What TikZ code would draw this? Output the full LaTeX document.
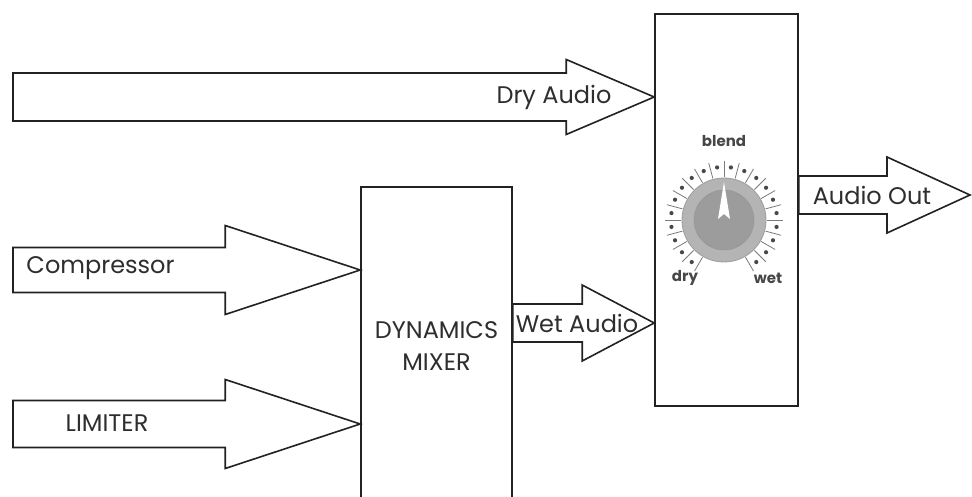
\documentclass[tikz,border=0pt]{standalone}
\usepackage{fontspec}
\setmainfont{Poppins}
\usepackage{tikz}
\usetikzlibrary{calc}

\definecolor{ink}{HTML}{222222}
\definecolor{txt}{HTML}{2E2E2E}
\definecolor{ringgray}{HTML}{B4B4B4}
\definecolor{capgray}{HTML}{9C9C9C}
\definecolor{tickgray}{HTML}{7A7A7A}
\definecolor{dotgray}{HTML}{474747}

\tikzset{
  unit/.style={draw=ink, line width=1.6pt, fill=white, inner sep=0pt},
  blockarr/.style={draw=ink, line width=1.6pt, fill=white, line join=miter},
  lbl/.style={text=txt, inner sep=0pt, font=\fontsize{24}{32}\selectfont},
  knoblbl/.style={text=dotgray, inner sep=0pt, font=\fontsize{15}{17}\selectfont\bfseries}
}

% block arrow: tail, tip, half shaft, half head, head length
\newcommand\blockarrow[5]{%
  \draw[blockarr] let \p1=(#1), \p2=(#2) in
    (\x1,{\y2+#3pt}) -- ({\x2-#5pt},{\y2+#3pt}) -- ({\x2-#5pt},{\y2+#4pt})
    -- (\x2,\y2) -- ({\x2-#5pt},{\y2-#4pt}) -- ({\x2-#5pt},{\y2-#3pt})
    -- (\x1,{\y2-#3pt}) -- cycle;}

\begin{document}
\begin{tikzpicture}[x=1pt, y=-1pt]
    \useasboundingbox (0,0) rectangle (972,497);
    \clip (0,0) rectangle (972,497);

    % Blend unit
    \node[unit, minimum width=143pt, minimum height=392pt] (blendbox) at (726.5,210) {};

    % Dynamics mixer (runs off the bottom)
    \node[unit, minimum width=151pt, minimum height=340pt] (mixer) at (436.5,357) {};
    \node[lbl, align=center] (mixerlbl) at (436.5,346) {DYNAMICS\\MIXER};

    % Levels of the arrows
    \coordinate (drytail) at (13,97);
    \coordinate (comptail) at (13,270);
    \coordinate (limtail) at (13,424);
    \coordinate (wetlvl) at (0,323);
    \coordinate (outtip) at (970,195);

    % Dry audio
    \blockarrow{drytail}{blendbox.west |- drytail}{24}{37.5}{88}
    \node[lbl] (drylbl) at (554,97) {Dry Audio};

    % Compressor and limiter into the mixer
    \blockarrow{comptail}{mixer.west |- comptail}{22.5}{44.5}{135}
    \node[lbl] (complbl) at (100.5,268) {Compressor};
    \blockarrow{limtail}{mixer.west |- limtail}{23.5}{44.5}{135}
    \node[lbl] (limlbl) at (107,423) {LIMITER};

    % Wet audio
    \blockarrow{mixer.east |- wetlvl}{blendbox.west |- wetlvl}{19}{38}{72}
    \node[lbl] (wetlbl) at (577,323) {Wet Audio};

    % Audio out
    \blockarrow{blendbox.east |- outtip}{outtip}{19}{38}{83}
    \node[lbl] (outlbl) at (872,195) {Audio Out};

    % Blend knob
    \begin{scope}[shift={(724,220)}, yscale=-1]
        \foreach \a in {-60,-45,...,240}
            \draw[tickgray, line width=0.8pt] (\a:43) -- (\a:59);
        \foreach \a in {-52.5,-37.5,...,232.5}
            \fill[dotgray] (\a:53) circle (2.1);
        \fill[ringgray, draw=capgray, line width=0.8pt] (0,0) circle (42);
        \fill[capgray, draw=tickgray!80, line width=0.5pt] (0,0) circle (30);
        \fill[white] (0,38) -- (6,1) -- (0,6) -- (-6,1) -- cycle;
    \end{scope}
    \node[knoblbl] (blendlbl) at (724,141) {blend};
    \node[knoblbl] (drylbl2) at (685,278) {dry};
    \node[knoblbl] (wetlbl2) at (768,278) {wet};
\end{tikzpicture}
\end{document}
